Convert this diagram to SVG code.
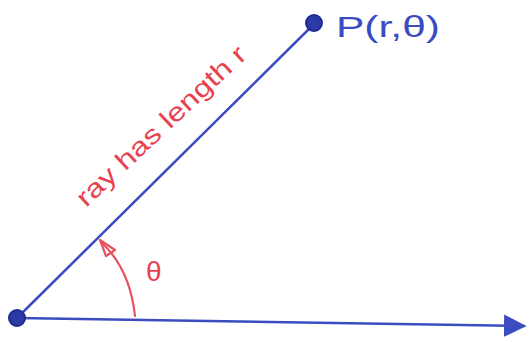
<svg xmlns="http://www.w3.org/2000/svg" width="531" height="342" viewBox="0 0 531 342">
<defs>
<style>
.blue{stroke:#3a4cc0;fill:none;stroke-width:2.5;stroke-linecap:round}
.red{stroke:#e8525c;fill:none;stroke-width:2.2;stroke-linecap:round;stroke-linejoin:round}
.dot{fill:#2c3aa8;stroke:#1e2a90;stroke-width:2}
.lblue{fill:#3a4cc0;font-family:"Liberation Sans",Arial,sans-serif}
.lred{fill:#e8424f;font-family:"Liberation Sans",Arial,sans-serif}
</style>
<marker id="ah" markerWidth="10" markerHeight="10" refX="8" refY="5" orient="auto" markerUnits="strokeWidth">
<path d="M0,0.5 L9,5 L0,9.5 Z" fill="#3a4cc0"/>
</marker>
</defs>
<g id="connectors">
<line id="ray" class="blue" x1="17" y1="318" x2="312" y2="26"/>
<line id="axis" class="blue" x1="17" y1="318" x2="524" y2="326" marker-end="url(#ah)"/>
<g id="angle-arrow">
<path class="red" d="M135,316 Q130,270 103,244"/>
<path class="red" d="M100,240 L115,250 L106,256 Z"/>
</g>
</g>
<g id="origin"><circle class="dot" cx="17" cy="318" r="8"/></g>
<g id="point-P">
<circle class="dot" cx="314" cy="23" r="8"/>
<text class="lblue" x="336" y="37" font-size="30" textLength="104" lengthAdjust="spacingAndGlyphs">P(r,θ)</text>
</g>
<g id="ray-label">
<text class="lred" x="0" y="0" font-size="26" textLength="222" lengthAdjust="spacingAndGlyphs" transform="translate(86,208) rotate(-43)">ray has length r</text>
</g>
<g id="theta-label">
<text class="lred" x="146" y="281" font-size="28">θ</text>
</g>
</svg>
